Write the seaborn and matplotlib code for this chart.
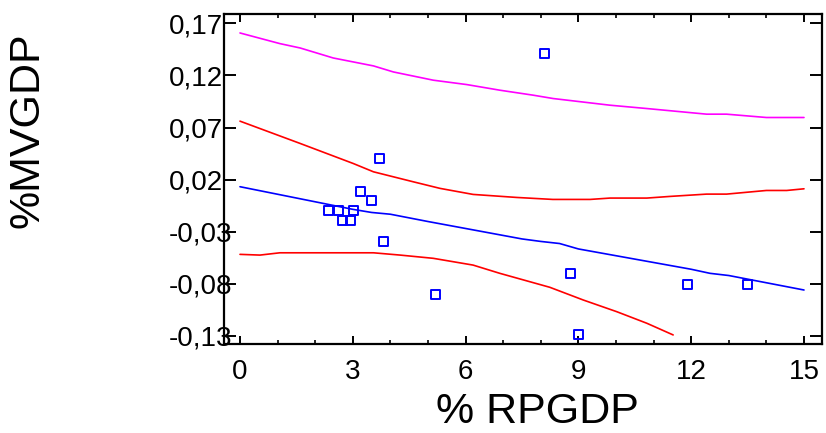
import matplotlib
matplotlib.use('Agg')
import matplotlib.pyplot as plt
import seaborn as sns
import pandas as pd
from matplotlib.ticker import FixedLocator, MultipleLocator, FixedFormatter

sns.set_style('white')
plt.rcParams['font.family'] = ['Liberation Sans', 'DejaVu Sans']
plt.rcParams['text.color'] = 'black'
plt.rcParams['axes.labelcolor'] = 'black'

# Observed points
rpgdp = [2.35, 2.61, 3.01, 2.73, 2.93, 3.21, 3.50, 3.81, 5.21, 3.70, 8.11, 8.80, 9.01, 11.91, 13.50]
mvgdp = [-0.010, -0.010, -0.010, -0.019, -0.019, 0.009, 0.000, -0.039, -0.090, 0.040, 0.141, -0.070, -0.129, -0.081, -0.081]

# Fitted line
fit_x = [0, 3, 3.5, 4, 5, 7.5, 8, 8.5, 9, 11, 12, 12.5, 13, 15]
fit_y = [0.0132, -0.0085, -0.0115, -0.0132, -0.0202, -0.0369, -0.0393, -0.0413, -0.0465, -0.0595, -0.0660, -0.0699, -0.0720, -0.0859]

# Upper confidence band (red)
ucl_x = [0, 1.6, 3.01, 3.55, 4.61, 5.32, 6.2, 7.36, 8.32, 9.31, 9.84, 10.82, 11.44, 12.41, 12.94, 14.0, 14.54, 15.0]
ucl_y = [0.0761, 0.0547, 0.0355, 0.0275, 0.0179, 0.0116, 0.0058, 0.0029, 0.0010, 0.0010, 0.0023, 0.0023, 0.0039, 0.0061, 0.0061, 0.0096, 0.0096, 0.0112]

# Lower band (red)
lcl_x = [0, 0.53, 1.06, 3.55, 4.26, 5.14, 6.2, 6.91, 8.24, 9.13, 10.02, 10.82, 11.52]
lcl_y = [-0.0517, -0.0524, -0.0502, -0.0502, -0.0524, -0.0555, -0.0620, -0.0699, -0.0833, -0.0955, -0.1067, -0.1178, -0.1290]

# Upper prediction band (magenta)
upl_x = [0, 1.06, 1.6, 2.48, 3.55, 4.08, 5.14, 6.03, 6.91, 7.8, 8.33, 9.84, 10.82, 12.41, 12.94, 14.0, 15.0]
upl_y = [0.1607, 0.1505, 0.1463, 0.1367, 0.1291, 0.1233, 0.1154, 0.1112, 0.1058, 0.1010, 0.0978, 0.0914, 0.0882, 0.0828, 0.0828, 0.0796, 0.0796]

xticks = [0, 3, 6, 9, 12, 15]
yticks = [0.17, 0.12, 0.07, 0.02, -0.03, -0.08, -0.13]
ytick_labels = ['0,17', '0,12', '0,07', '0,02', '-0,03', '-0,08', '-0,13']

fig = plt.figure(figsize=(8.26, 4.33), dpi=100)
ax = fig.add_axes([224/826, 1-344/433, (822-224)/826, (344-14)/433])

lw = 1.2
sns.lineplot(x=upl_x, y=upl_y, color='#ff00ff', lw=lw, ax=ax, sort=False)
sns.lineplot(x=ucl_x, y=ucl_y, color='#ff0000', lw=lw, ax=ax, sort=False)
sns.lineplot(x=lcl_x, y=lcl_y, color='#ff0000', lw=lw, ax=ax, sort=False)
sns.lineplot(x=fit_x, y=fit_y, color='#0000ff', lw=lw, ax=ax, sort=False)
sns.scatterplot(x=rpgdp, y=mvgdp, marker='s', s=42, facecolor='none',
                edgecolor='#0000ff', linewidth=1.4, ax=ax, zorder=5)

ax.set_xlim(-0.4255, 15.479)
ax.set_ylim(-0.1377, 0.1789)

for s in ax.spines.values():
    s.set_visible(True)
    s.set_linewidth(1.6)
    s.set_color('black')

ax.xaxis.set_major_locator(FixedLocator(xticks))
ax.xaxis.set_minor_locator(MultipleLocator(1))
ax.yaxis.set_major_locator(FixedLocator(yticks))
ax.yaxis.set_major_formatter(FixedFormatter(ytick_labels))

ax.tick_params(axis='x', which='major', direction='in', length=5.5, width=1.4,
               top=True, bottom=True, labelsize=20, pad=11, colors='black')
ax.tick_params(axis='x', which='minor', direction='in', length=2.8, width=1.2,
               top=True, bottom=True, colors='black')
ax.tick_params(axis='y', which='major', direction='in', length=8.5, width=1.4,
               left=True, right=True, labelsize=20, pad=40, colors='black')
for lab in ax.get_yticklabels():
    lab.set_horizontalalignment('left')

ax.set_xlabel('')
ax.set_ylabel('')
fig.text(537/826, 1-412/433, '% RPGDP', fontsize=31, ha='center', va='center', color='black')
fig.text(28/826, 1-130/433, '%MVGDP', fontsize=31, rotation=90, ha='center', va='center', color='black')

fig.savefig('out.png', dpi=100)
